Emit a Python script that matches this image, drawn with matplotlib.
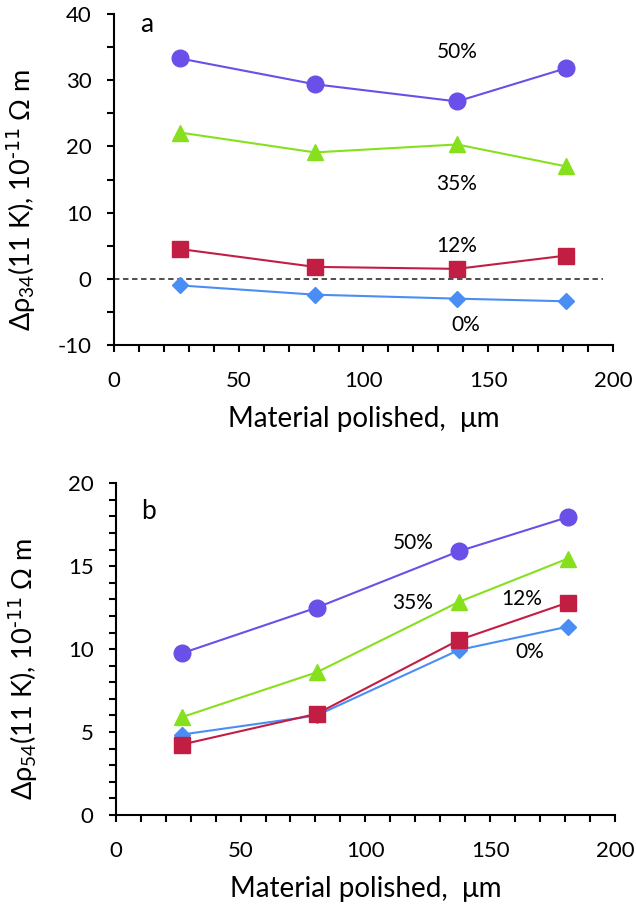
import numpy as np
import matplotlib
matplotlib.use("Agg")
import matplotlib.pyplot as plt
from matplotlib.ticker import MultipleLocator

plt.rcParams['font.family'] = ['Lato', 'DejaVu Sans']
plt.rcParams['mathtext.default'] = 'regular'
plt.rcParams['axes.unicode_minus'] = False

# polished depth (um)
x_polished = [26.5, 80.5, 137.5, 181]
series_names = ['50%', '35%', '12%', '0%']

# panel a: d rho_34 (11 K), 1e-11 Ohm m
rho34_50 = [33.3, 29.4, 26.8, 31.8]
rho34_35 = [22.1, 19.1, 20.3, 17.0]
rho34_12 = [4.5, 1.8, 1.5, 3.5]
rho34_0 = [-1.0, -2.4, -3.0, -3.4]

# panel b: d rho_54 (11 K), 1e-11 Ohm m
rho54_50 = [9.75, 12.5, 15.9, 17.95]
rho54_35 = [5.9, 8.6, 12.85, 15.45]
rho54_12 = [4.25, 6.1, 10.55, 12.8]
rho54_0 = [4.85, 6.0, 9.95, 11.35]

colors = {'50%': '#6a4fe8', '35%': '#86e01e', '12%': '#c21e44', '0%': '#4a8ef5'}
markers = {'50%': ('o', 12), '35%': ('^', 11), '12%': ('s', 11), '0%': ('D', 8.5)}

# label positions (data coords)
labels_a = {'50%': (137.5, 34.2), '35%': (137.5, 14.3), '12%': (137.5, 4.9), '0%': (141, -7.0)}
labels_b = {'50%': (119, 16.4), '35%': (119, 12.8), '12%': (162.5, 13.0), '0%': (166, 9.85)}


def style_axis(ax, ymajor, yminor, ylabel):
    ax.spines['top'].set_visible(False)
    ax.spines['right'].set_visible(False)
    for s in ('left', 'bottom'):
        ax.spines[s].set_linewidth(1.5)
    ax.xaxis.set_major_locator(MultipleLocator(50))
    ax.xaxis.set_minor_locator(MultipleLocator(10))
    ax.yaxis.set_major_locator(MultipleLocator(ymajor))
    ax.yaxis.set_minor_locator(MultipleLocator(yminor))
    ax.tick_params(which='both', direction='out', length=5, width=1.5)
    ax.tick_params(axis='x', which='major', pad=14, labelsize=16)
    ax.tick_params(axis='y', which='major', pad=11, labelsize=16)
    ax.set_xlim(0, 200)
    ax.set_xlabel('Material polished,  μm', fontsize=20)
    ax.set_ylabel(ylabel, fontsize=19.5)
    # set_*label resets the position, so place them afterwards
    ax.xaxis.set_label_coords(0.5, -0.185)
    ax.yaxis.set_label_coords(-0.152, 0.44)


fig = plt.figure(figsize=(6.36, 9.09), dpi=100)
ax_a = fig.add_axes([0.179, 0.6205, 0.785, 0.364])
ax_b = fig.add_axes([0.182, 0.1034, 0.785, 0.365])

data_a = [rho34_50, rho34_35, rho34_12, rho34_0]
data_b = [rho54_50, rho54_35, rho54_12, rho54_0]

ax_a.axhline(0, xmin=0, xmax=0.98, color='#404040', ls=(0, (3, 2)), lw=1.3)
for name, ys in zip(series_names, data_a):
    m, ms = markers[name]
    ax_a.plot(x_polished, ys, color=colors[name], marker=m, ms=ms, lw=1.5)
    tx, ty = labels_a[name]
    ax_a.text(tx, ty, name, fontsize=15, ha='center', va='center')

# draw order in b: red on top of blue
order_b = [3, 2, 1, 0]
for i in order_b:
    name = series_names[i]
    m, ms = markers[name]
    ax_b.plot(x_polished, data_b[i], color=colors[name], marker=m, ms=ms, lw=1.5)
    tx, ty = labels_b[name]
    ax_b.text(tx, ty, name, fontsize=15, ha='center', va='center')

style_axis(ax_a, 10, 5, r'Δρ$_{34}$(11 K), 10$^{\text{-11}}$ Ω m')
ax_a.set_ylim(-10, 40)
ax_a.text(13, 38.5, 'a', fontsize=19, ha='center', va='center')

style_axis(ax_b, 5, 1, r'Δρ$_{54}$(11 K), 10$^{\text{-11}}$ Ω m')
ax_b.set_ylim(0, 20)
ax_b.text(13, 18.3, 'b', fontsize=19, ha='center', va='center')

fig.savefig('out.png', dpi=100)
